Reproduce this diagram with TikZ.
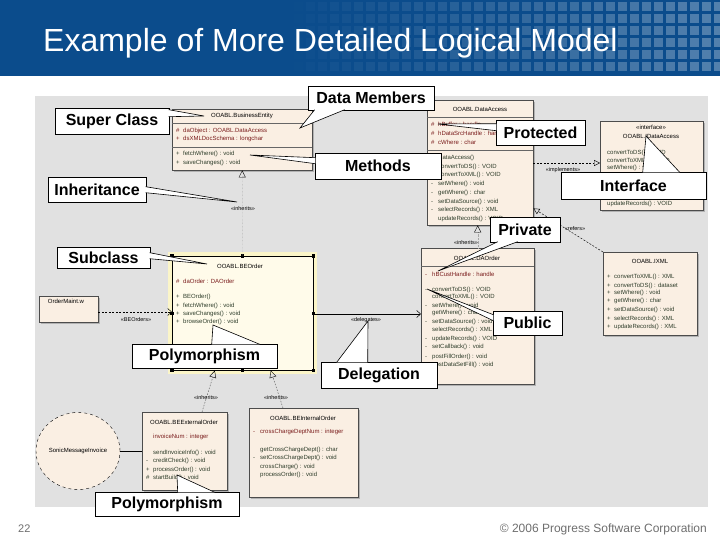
\documentclass[tikz,border=0pt]{standalone}
\usepackage{fontspec}
\setmainfont{Liberation Sans}
\usetikzlibrary{arrows.meta, positioning, shapes.geometric, calc, shadows}
\definecolor{SlideBlue}{HTML}{0B4C8C}
\definecolor{PanelGray}{HTML}{E1E1E1}
\definecolor{ClassFill}{HTML}{FAEFE3}
\definecolor{SelFill}{HTML}{FFFBEA}
\definecolor{SelGlow}{HTML}{FBF5C8}
\definecolor{AttrRed}{HTML}{7A1C1C}
\definecolor{OpGreen}{HTML}{2E3D2A}
\definecolor{FootGray}{HTML}{6E6E6E}

\begin{document}
\begin{tikzpicture}[x=1pt, y=-1pt,
    classbox/.style={
      rectangle, draw=black!70, fill=ClassFill, line width=0.4pt, anchor=north west, inner sep=0pt,
      drop shadow={shadow xshift=2pt, shadow yshift=-2pt, fill=black!30, opacity=1}
    },
    selbox/.style={rectangle, draw=black, fill=SelFill, line width=0.6pt, anchor=north west, inner sep=0pt},
    umlname/.style={font=\fontsize{6}{7}\selectfont, inner sep=0pt},
    umlattr/.style={font=\fontsize{6}{7}\selectfont, text=AttrRed, anchor=west, inner sep=0pt},
    umlop/.style={font=\fontsize{6}{7}\selectfont, text=OpGreen, anchor=west, inner sep=0pt},
    conlabel/.style={font=\fontsize{5.5}{6}\selectfont, inner sep=0pt},
    sepline/.style={draw=black!60, line width=0.4pt},
    gen/.style={draw=black!35, line width=0.4pt, densely dotted, -{Triangle[open, length=7pt, width=7pt, color=black]}},
    gendash/.style={draw=black!70, line width=0.4pt, dash pattern=on 1.5pt off 1.5pt, -{Triangle[open, length=7pt, width=7pt, color=black]}},
    realz/.style={draw=black, line width=0.45pt, dash pattern=on 2pt off 1.5pt, -{Triangle[open, length=6pt, width=6pt]}},
    dep/.style={draw=black, line width=0.45pt, dash pattern=on 2pt off 1.5pt, -{Straight Barb[length=4pt, width=7pt]}},
    deleg/.style={draw=black, line width=0.5pt, -{Straight Barb[length=4pt, width=7pt]}},
    assoc/.style={draw=black, line width=0.6pt},
    callout/.style={rectangle, draw=black, fill=white, line width=0.6pt, inner sep=0pt, font=\fontsize{16}{18}\selectfont\bfseries},
    wedge/.style={draw=black, fill=white, line width=0.6pt}
  ]
    \useasboundingbox (0,0) rectangle (720,540);

    % title bar
    \fill[SlideBlue] (0,0) rectangle (720,76);
    \foreach \cx in {282,294,...,714}
      \foreach \cy in {2,14,...,62}
      {
        \pgfmathsetmacro\op{0.3*(\cx-280)/440}
        \fill[white, opacity=\op] (\cx,\cy) rectangle ++(9,9);
      }
    \node[anchor=base west, text=white, font=\fontsize{32}{36}\selectfont, inner sep=0pt] (title) at (43,52) {Example of More Detailed Logical Model};

    % diagram panel
    \fill[PanelGray] (35,96) rectangle (708,507);

    % classes
    \node[classbox, minimum width=140, minimum height=61] (bizent) at (172,109) {};
    \node[umlname] (biztitle) at (242,116) {OOABL.BusinessEntity};
    \draw[sepline] (172,123) -- (312,123);
    \draw[sepline] (172,147) -- (312,147);
    \foreach \v/\t/\y [count=\i] in {\#/daObject : OOABL.DataAccess/131, +/dsXMLDocSchema : longchar/139}
      \node[umlattr] (bizattr\i) at (176,\y) {\makebox[7pt][l]{\v}\t};
    \foreach \v/\t/\y [count=\i] in {+/fetchWhere() : void/154, +/saveChanges() : void/163}
      \node[umlop] (bizop\i) at (176,\y) {\makebox[7pt][l]{\v}\t};

    \node[classbox, minimum width=106, minimum height=125] (dataacc) at (427,100) {};
    \node[umlname] (datitle) at (480,109) {OOABL.DataAccess};
    \draw[sepline] (427,117) -- (533,117);
    \draw[sepline] (427,150) -- (533,150);
    \foreach \v/\t/\y [count=\i] in {\#/hBuffer : handle/124, \#/hDataSrcHandle : handle/133, \#/cWhere : char/142}
      \node[umlattr] (daattr\i) at (431,\y) {\makebox[7pt][l]{\v}\t};
    \foreach \v/\t/\y [count=\i] in {+/DataAccess()/158, +/convertToDS() : VOID/167, +/convertToXML() : VOID/175,
        -/setWhere() : void/184, -/getWhere() : char/193, -/setDataSource() : void/202,
        -/selectRecords() : XML/210, {}/updateRecords() : VOID/219}
      \node[umlop] (daop\i) at (431,\y) {\makebox[7pt][l]{\v}\t};

    \node[classbox, minimum width=103, minimum height=89] (iface) at (600,121) {};
    \node[umlname] (ifstereo) at (651,127) {«interface»};
    \node[umlname] (iftitle) at (651,136) {OOABL.IDataAccess};
    \foreach \t/\y [count=\i] in {convertToDS() : VOID/153, convertToXML() : VOID/161, setWhere() : void/168,
        updateRecords() : VOID/204}
      \node[umlop] (ifop\i) at (607,\y) {\t};

    \fill[SelGlow] (168,252) rectangle (317,374);
    \node[selbox, minimum width=141, minimum height=114] (beorder) at (172,256) {};
    \node[umlname] (betitle) at (240,266) {OOABL.BEOrder};
    \node[umlattr] (beattr) at (176,281) {\makebox[7pt][l]{\#}daOrder : DAOrder};
    \foreach \v/\t/\y [count=\i] in {+/BEOrder()/297, +/fetchWhere() : void/306, +/saveChanges() : void/314, +/browseOrder() : void/322}
      \node[umlop] (beop\i) at (176,\y) {\makebox[7pt][l]{\v}\t};
    \foreach \a in {north west, north, north east, east, south east, south, south west, west}
      \fill[black] ([shift={(-1.6pt,-1.6pt)}]beorder.\a) rectangle ++(3.2,-3.2);

    \node[classbox, minimum width=59, minimum height=26] (ordermaint) at (39,296) {};
    \node[umlname] (omtitle) at (66,301) {OrderMaint.w};

    \node[classbox, minimum width=113, minimum height=136] (daorder) at (421,248) {};
    \node[umlname] (dotitle) at (477,258) {OOABL.DAOrder};
    \draw[sepline] (421,266) -- (534,266);
    \node[umlattr] (doattr) at (425,274) {\makebox[7pt][l]{-}hBCustHandle : handle};
    \foreach \v/\t/\y [count=\i] in {-/convertToDS() : VOID/290, {}/convertToXML() : VOID/297, -/setWhere() : void/306,
        {}/getWhere() : char/313, -/setDataSource() : void/322, {}/selectRecords() : XML/330,
        -/updateRecords() : VOID/339, -/setCallback() : void/347, -/postFillOrder() : void/357,
        {}/postDataSetFill() : void/365}
      \node[umlop] (doop\i) at (425,\y) {\makebox[7pt][l]{\v}\t};

    \node[classbox, minimum width=94, minimum height=83] (ixml) at (603,252) {};
    \node[umlname] (ixtitle) at (650,261) {OOABL.IXML};
    \foreach \t/\y [count=\i] in {convertToXML() : XML/277, convertToDS() : dataset/286, setWhere() : void/293,
        getWhere() : char/301, setDataSource() : void/310, selectRecords() : XML/319, updateRecords() : XML/327}
      \node[umlop] (ixop\i) at (607,\y) {\makebox[7pt][l]{+}\t};

    \node[classbox, minimum width=85, minimum height=78] (extorder) at (142,412) {};
    \node[umlname] (extitle) at (184,422) {OOABL.BEExternalOrder};
    \node[umlattr] (exattr) at (146,437) {\makebox[7pt][l]{}invoiceNum : integer};
    \foreach \v/\t/\y [count=\i] in {{}/sendInvoiceInfo() : void/453, -/creditCheck() : void/461,
        +/processOrder() : void/470, \#/startBuild() : void/478}
      \node[umlop] (exop\i) at (146,\y) {\makebox[7pt][l]{\v}\t};

    \node[classbox, minimum width=109, minimum height=89] (intorder) at (249,408) {};
    \node[umlname] (intitle) at (303,418) {OOABL.BEInternalOrder};
    \node[umlattr] (inattr) at (253,432) {\makebox[7pt][l]{-}crossChargeDeptNum : integer};
    \foreach \v/\t/\y [count=\i] in {{}/getCrossChargeDept() : char/450, -/setCrossChargeDept() : void/458,
        {}/crossCharge() : void/467, {}/processOrder() : void/475}
      \node[umlop] (inop\i) at (253,\y) {\makebox[7pt][l]{\v}\t};

    \node[ellipse, draw=black, dashed, fill=ClassFill, line width=0.4pt, minimum width=84, minimum height=77,
      inner sep=0pt, font=\fontsize{6}{7}\selectfont] (sonic) at (78,451) {SonicMessageInvoice};

    % connectors
    \coordinate (implY) at (0,163);
    \coordinate (depY) at (0,312);
    \coordinate (delY) at (0,314);
    \draw[gen] (beorder.north) -- (bizent.south);
    \node[conlabel] (inhlabel1) at (243,209) {«inherits»};
    \draw[gen] (daorder.north) -- (daorder.north |- dataacc.south);
    \node[conlabel] (inhlabel2) at (466,243) {«inherits»};
    \draw[realz] (dataacc.east |- implY) -- (iface.west |- implY);
    \node[conlabel] (impllabel) at (563,170) {«implements»};
    \draw[realz] (ixml.north west) -- ([yshift=17pt]dataacc.south east);
    \node[conlabel] (reflabel) at (575,229) {«refers»};
    \draw[dep] (ordermaint.east |- depY) -- (beorder.west |- depY);
    \node[conlabel] (deplabel) at (136,320) {«BEOrders»};
    \draw[deleg] (beorder.east |- delY) -- (daorder.west |- delY);
    \node[conlabel] (dellabel) at (366,320) {«delegates»};
    \draw[gendash] ([xshift=60pt]extorder.north west) -- ([xshift=-28pt]beorder.south);
    \node[conlabel] (inhlabel3) at (206,398) {«inherits»};
    \draw[gendash] ([xshift=34pt]intorder.north west) -- ([xshift=28pt]beorder.south);
    \node[conlabel] (inhlabel4) at (276,398) {«inherits»};
    \draw[assoc] (sonic.east) -- (sonic.east -| extorder.west);

    % callouts
    \node[callout, minimum width=126, minimum height=24] (dm) at (371,98) {Data Members};
    \node[callout, minimum width=114, minimum height=26] (sc) at (112,121) {Super Class};
    \node[callout, minimum width=89, minimum height=25] (prot) at (540.5,132.5) {Protected};
    \node[callout, minimum width=126, minimum height=26] (meth) at (378,166) {Methods};
    \node[callout, minimum width=98, minimum height=25] (inh) at (97,189.5) {Inheritance};
    \node[callout, minimum width=145, minimum height=27] (intf) at (633.5,185.5) {Interface};
    \node[callout, minimum width=70, minimum height=25] (priv) at (525,229.5) {Private};
    \node[callout, minimum width=93, minimum height=21] (subc) at (103.5,258) {Subclass};
    \node[callout, minimum width=69, minimum height=24] (pub) at (527.5,323) {Public};
    \node[callout, minimum width=145, minimum height=24] (poly1) at (204.5,356) {Polymorphism};
    \node[callout, minimum width=116, minimum height=26] (dele) at (379,375) {Delegation};
    \node[callout, minimum width=144, minimum height=24] (poly2) at (167,504) {Polymorphism};

    \coordinate (dmtip) at (300,128);
    \coordinate (sctip) at (204,116);
    \coordinate (prottip) at (438,124);
    \coordinate (methtip) at (250,155);
    \coordinate (inhtip) at (237,202);
    \coordinate (intftip) at (646,136);
    \coordinate (privtip) at (438,271);
    \coordinate (subctip) at (207,264);
    \coordinate (pubtip) at (427,289);
    \coordinate (poly1tip) at (213,325);
    \coordinate (deletip) at (368,321);
    \coordinate (poly2tip) at (177,475);

    \filldraw[wedge] ([xshift=7pt,yshift=0.6pt]dm.south west) -- (dmtip) -- ([xshift=37pt,yshift=0.6pt]dm.south west);
    \filldraw[wedge] ([xshift=-0.6pt,yshift=-2pt]sc.north east) -- (sctip) -- ([xshift=-0.6pt,yshift=-9pt]sc.north east);
    \filldraw[wedge] ([xshift=0.6pt,yshift=-4pt]prot.north west) -- (prottip) -- ([xshift=0.6pt,yshift=-11pt]prot.north west);
    \filldraw[wedge] ([xshift=0.6pt,yshift=-5pt]meth.north west) -- (methtip) -- ([xshift=0.6pt,yshift=-11pt]meth.north west);
    \filldraw[wedge] ([xshift=-0.6pt,yshift=-10pt]inh.north east) -- (inhtip) -- ([xshift=-0.6pt,yshift=-16pt]inh.north east);
    \filldraw[wedge] ([xshift=82pt,yshift=-0.6pt]intf.north west) -- (intftip) -- ([xshift=119pt,yshift=-0.6pt]intf.north west);
    \filldraw[wedge] ([xshift=8pt,yshift=0.6pt]priv.south west) -- (privtip) -- ([xshift=28pt,yshift=0.6pt]priv.south west);
    \filldraw[wedge] ([xshift=-0.6pt,yshift=-5.5pt]subc.north east) -- (subctip) -- ([xshift=-0.6pt,yshift=-11.5pt]subc.north east);
    \filldraw[wedge] ([xshift=0.6pt,yshift=-4pt]pub.north west) -- (pubtip) -- ([xshift=0.6pt,yshift=-10pt]pub.north west);
    \filldraw[wedge] ([xshift=80pt,yshift=-0.6pt]poly1.north west) -- (poly1tip) -- ([xshift=128pt,yshift=-0.6pt]poly1.north west);
    \filldraw[wedge] ([xshift=16pt,yshift=-0.6pt]dele.north west) -- (deletip) -- ([xshift=47pt,yshift=-0.6pt]dele.north west);
    \filldraw[wedge] ([xshift=83pt,yshift=-0.6pt]poly2.north west) -- (poly2tip) -- ([xshift=120pt,yshift=-0.6pt]poly2.north west);

    % footer
    \node[anchor=base west, text=FootGray, font=\fontsize{11}{12}\selectfont, inner sep=0pt] (pagenum) at (18,532) {22};
    \node[anchor=base east, text=FootGray, font=\fontsize{12}{13}\selectfont, inner sep=0pt] (copyright) at (707,532) {© 2006 Progress Software Corporation};
\end{tikzpicture}
\end{document}
